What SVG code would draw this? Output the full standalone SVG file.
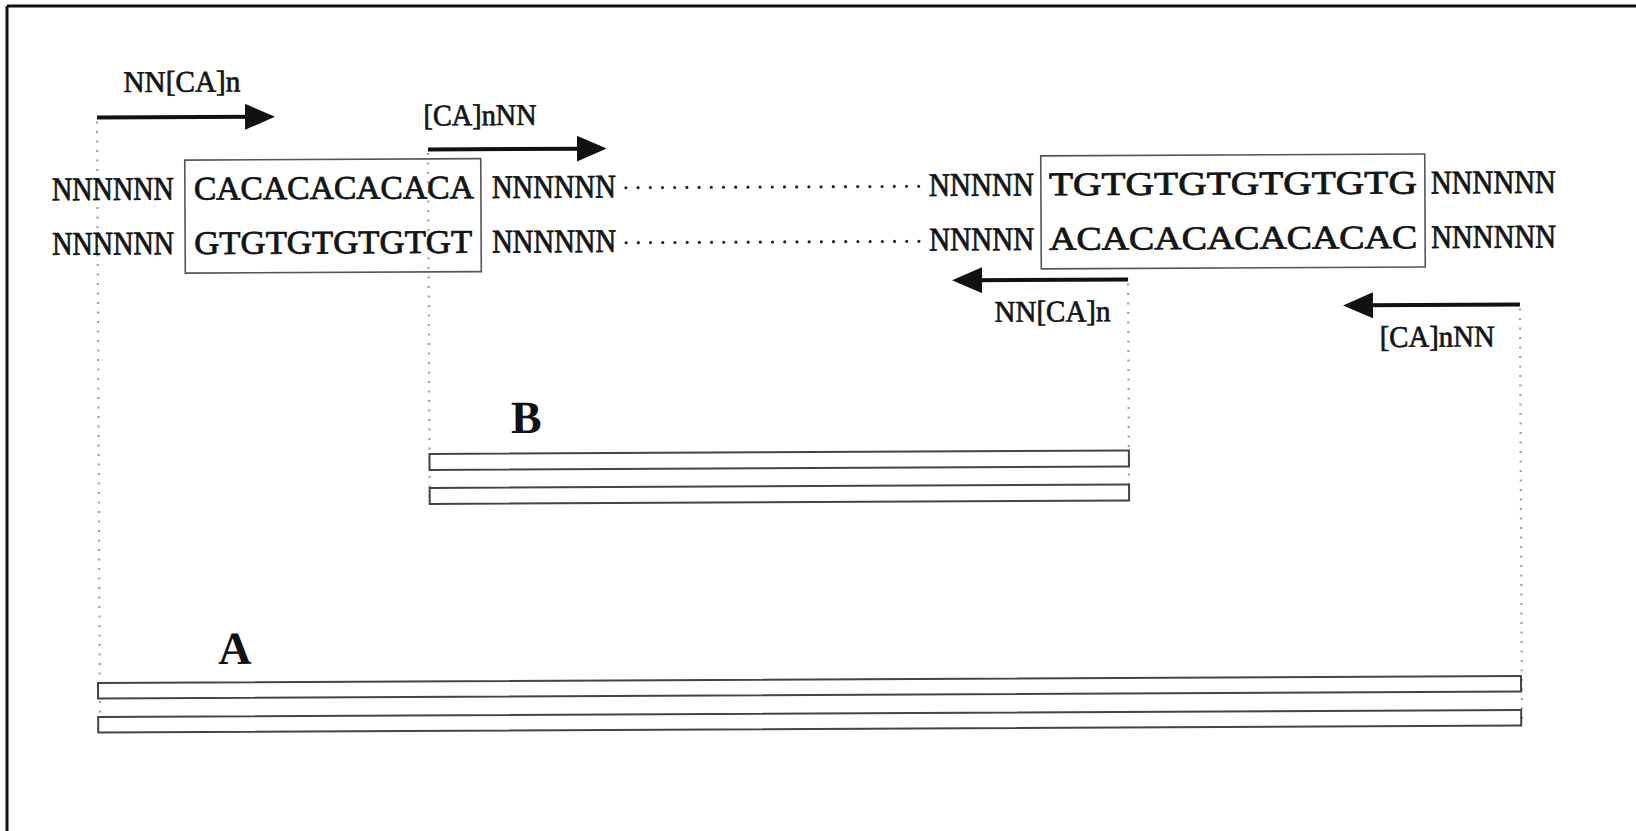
<svg xmlns="http://www.w3.org/2000/svg" width="1636" height="831" viewBox="0 0 1636 831">
<defs>
<style>
.seq{font-family:"Liberation Serif","Times New Roman",serif;font-size:33px;fill:#141414;stroke:#141414;stroke-width:0.8}
.lbl{font-family:"Liberation Serif","Times New Roman",serif;font-size:30px;fill:#141414;stroke:#141414;stroke-width:0.7}
.big{font-family:"Liberation Serif","Times New Roman",serif;font-size:46px;font-weight:bold;fill:#111}
.box{fill:none;stroke:#555;stroke-width:1.6}
.bar{fill:#fff;stroke:#444;stroke-width:2}
.arrow{stroke:#111;stroke-width:4;fill:none}
.guide{stroke:#a0a0a0;stroke-width:2.2;stroke-dasharray:2 7.5;fill:none}
.dots{stroke:#222;stroke-width:3.2;stroke-linecap:round;stroke-dasharray:0 12.2;fill:none}
</style>
<marker id="ah" markerWidth="30" markerHeight="26" refX="10" refY="13" orient="auto" markerUnits="userSpaceOnUse">
<path d="M0,0 L30,13 L0,26 z" fill="#111"/>
</marker>
</defs>
<rect x="0" y="0" width="1636" height="831" fill="#fff"/>
<g id="frame">
<line x1="7" y1="6" x2="1636" y2="6" stroke="#111" stroke-width="3"/>
<line x1="7" y1="6" x2="7" y2="831" stroke="#111" stroke-width="3"/>
</g>
<g transform="rotate(-0.28 818 415)">
<g id="connectors">
<line class="guide" x1="98.5" y1="118" x2="98.5" y2="729"/>
<line class="guide" x1="429.3" y1="151" x2="429.3" y2="502"/>
<line class="guide" x1="1128.7" y1="285" x2="1128.7" y2="502"/>
<line class="guide" x1="1520.5" y1="312" x2="1520.5" y2="729"/>
<line class="arrow" x1="98.5" y1="114" x2="256.5" y2="114" marker-end="url(#ah)"/>
<line class="arrow" x1="429.3" y1="147.5" x2="588" y2="147.5" marker-end="url(#ah)"/>
<line class="arrow" x1="1128.7" y1="281" x2="972.7" y2="281" marker-end="url(#ah)"/>
<line class="arrow" x1="1520.5" y1="308" x2="1363.5" y2="308" marker-end="url(#ah)"/>
<line class="dots" x1="627" y1="186.8" x2="921" y2="186.8"/>
<line class="dots" x1="627" y1="241.8" x2="921" y2="241.8"/>
</g>
<g id="primer-labels">
<text class="lbl" x="125" y="88.6" textLength="117" lengthAdjust="spacingAndGlyphs">NN[CA]n</text>
<text class="lbl" x="425" y="123.5" textLength="113" lengthAdjust="spacingAndGlyphs">[CA]nNN</text>
<text class="lbl" x="995" y="322.7" textLength="116" lengthAdjust="spacingAndGlyphs">NN[CA]n</text>
<text class="lbl" x="1380" y="349.7" textLength="115" lengthAdjust="spacingAndGlyphs">[CA]nNN</text>
</g>
<g id="repeat-box-1">
<rect class="box" x="186" y="157" width="296" height="113"/>
<text class="seq" x="195" y="196.5" textLength="280" lengthAdjust="spacingAndGlyphs">CACACACACACA</text>
<text class="seq" x="195" y="251" textLength="278" lengthAdjust="spacingAndGlyphs">GTGTGTGTGTGT</text>
</g>
<g id="repeat-box-2">
<rect class="box" x="1042" y="157" width="384" height="113"/>
<text class="seq" x="1050" y="196.5" textLength="368" lengthAdjust="spacingAndGlyphs">TGTGTGTGTGTGTG</text>
<text class="seq" x="1050" y="251" textLength="368" lengthAdjust="spacingAndGlyphs">ACACACACACACAC</text>
</g>
<g id="flanks">
<text class="seq" x="53" y="196.5" textLength="122" lengthAdjust="spacingAndGlyphs">NNNNNN</text>
<text class="seq" x="53" y="251" textLength="122" lengthAdjust="spacingAndGlyphs">NNNNNN</text>
<text class="seq" x="493" y="196.5" textLength="124" lengthAdjust="spacingAndGlyphs">NNNNNN</text>
<text class="seq" x="493" y="251" textLength="124" lengthAdjust="spacingAndGlyphs">NNNNNN</text>
<text class="seq" x="930" y="196.5" textLength="105" lengthAdjust="spacingAndGlyphs">NNNNN</text>
<text class="seq" x="930" y="251" textLength="105" lengthAdjust="spacingAndGlyphs">NNNNN</text>
<text class="seq" x="1432" y="196.5" textLength="125" lengthAdjust="spacingAndGlyphs">NNNNNN</text>
<text class="seq" x="1432" y="251" textLength="125" lengthAdjust="spacingAndGlyphs">NNNNNN</text>
</g>
<g id="product-B">
<text class="big" x="511" y="431.6">B</text>
<rect class="bar" x="429.3" y="452" width="699.4" height="16"/>
<rect class="bar" x="429.3" y="486" width="699.4" height="16"/>
</g>
<g id="product-A">
<text class="big" x="217" y="661">A</text>
<rect class="bar" x="96.7" y="679.5" width="1423" height="15.5"/>
<rect class="bar" x="96.7" y="713.5" width="1423" height="15.5"/>
</g>
</g>
</svg>
